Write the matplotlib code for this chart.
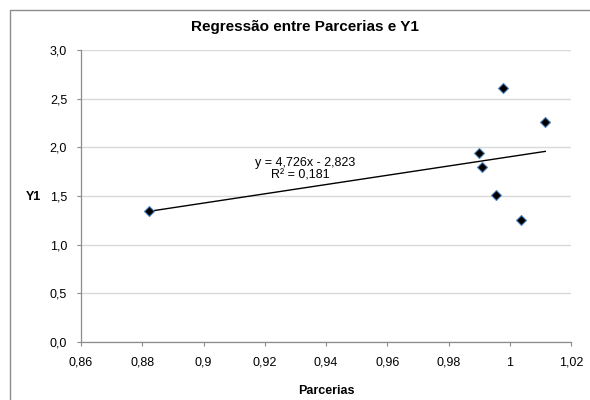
import numpy as np
import matplotlib
matplotlib.use("Agg")
import matplotlib.pyplot as plt
from matplotlib.patches import Rectangle
from matplotlib.ticker import FuncFormatter, MultipleLocator

plt.rcParams["font.family"] = ["Liberation Sans", "DejaVu Sans"]

# dados
parcerias = [0.8823, 0.9898, 0.9908, 0.9956, 0.9979, 1.0037, 1.0116]
y1 = [1.35, 1.94, 1.80, 1.51, 2.61, 1.25, 2.26]
equacao = "y = 4,726x - 2,823"
r2_texto = "R² = 0,181"

fig = plt.figure(figsize=(5.9, 4.0), dpi=100)
ax = fig.add_axes([0.1373, 0.1458, 0.8305, 0.7282])

# borda do gráfico (estilo Excel)
fig.patches.append(Rectangle((10 / 590, -0.2), 1.2, 0.976 + 0.2, transform=fig.transFigure,
                             fill=False, edgecolor="#8c8c8c", linewidth=1.0))

# linha de tendência
coef = np.polyfit(parcerias, y1, 1)
xs = np.array([min(parcerias), max(parcerias)])
ax.plot(xs, np.polyval(coef, xs), color="black", linewidth=1.0, zorder=2)

ax.plot(parcerias, y1, linestyle="none", marker="D", markersize=5.5,
        markerfacecolor="black", markeredgecolor="#4f81bd", markeredgewidth=0.8, zorder=3)

ax.set_xlim(0.86, 1.02)
ax.set_ylim(0, 3.0)
ax.xaxis.set_major_locator(MultipleLocator(0.02))
ax.yaxis.set_major_locator(MultipleLocator(0.5))
ax.xaxis.set_major_formatter(FuncFormatter(lambda v, p: f"{round(v, 2):g}".replace(".", ",")))
ax.yaxis.set_major_formatter(FuncFormatter(lambda v, p: f"{v:.1f}".replace(".", ",")))

ax.grid(axis="y", color="#d9d9d9", linewidth=1.0)
ax.set_axisbelow(True)
for lado in ["top", "right"]:
    ax.spines[lado].set_visible(False)
for lado in ["left", "bottom"]:
    ax.spines[lado].set_color("#8c8c8c")
    ax.spines[lado].set_linewidth(0.9)
ax.tick_params(axis="both", direction="out", length=3, color="#8c8c8c", labelsize=9)
ax.tick_params(axis="x", pad=8)
ax.tick_params(axis="y", pad=7)

ax.set_xlabel("Parcerias", fontsize=9, fontweight="bold")
ax.xaxis.set_label_coords(0.5, -0.149)
ax.set_ylabel("Y1", fontsize=9, fontweight="bold", rotation=0, ha="center", va="center")
ax.yaxis.set_label_coords(-0.098, 0.498)

fig.text(305 / 590, 1 - 27 / 400, "Regressão entre Parcerias e Y1", fontsize=11,
         fontweight="bold", ha="center", va="center")

ax.text(0.457, 0.614, equacao, transform=ax.transAxes, fontsize=9, ha="center", va="center")
ax.text(0.447, 0.570, r2_texto, transform=ax.transAxes, fontsize=9, ha="center", va="center")

fig.savefig("out.png", dpi=100)
